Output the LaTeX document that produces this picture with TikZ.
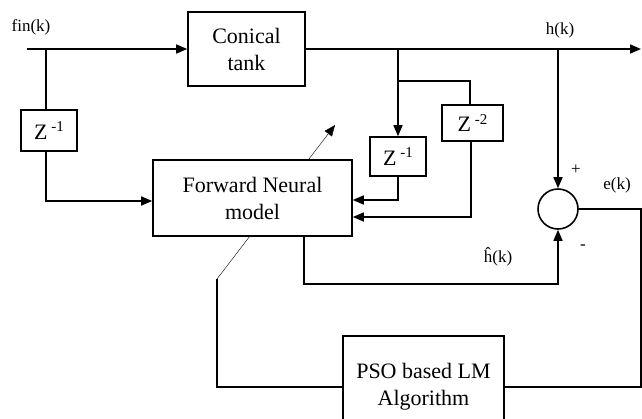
\documentclass[tikz,border=0pt]{standalone}
\usepackage{fontspec}
\setmainfont{Liberation Serif}
\usetikzlibrary{positioning,arrows.meta,backgrounds,calc}

% delay operator z^{-n}
\newcommand{\zdelay}[1]{Z\,\raisebox{0.75ex}{\fontsize{15}{15}\selectfont #1}}

\begin{document}
\begin{tikzpicture}[
  x=1pt, y=-1pt,
  line width=1.6pt,
  font=\fontsize{22}{27}\selectfont,
  block/.style={rectangle, draw, fill=white, align=center, inner sep=0pt},
  delay/.style={rectangle, draw, fill=white, inner sep=0pt,
    font=\fontsize{22}{22}\selectfont},
  sig/.style={font=\fontsize{17}{17}\selectfont, inner sep=0pt},
  arr/.style={-{Triangle[length=11pt,width=9pt]}}
]
\useasboundingbox (0,0) rectangle (642,418);

\node[block, minimum width=117pt, minimum height=74pt] (tank) at (246.5,49) {Conical\\tank};
\node[block, minimum width=199pt, minimum height=76pt] (nn) at (252.5,198) {Forward Neural\\model};
\node[delay, minimum width=56pt, minimum height=41pt] (zfin) at (49,130.5) {\zdelay{-1}};
\node[delay, minimum width=56pt, minimum height=39pt] (zh1) at (398,156.5) {\zdelay{-1}};
\node[delay, minimum width=61pt, minimum height=36pt] (zh2) at (472.5,123) {\zdelay{-2}};
\node[circle, draw, minimum size=40pt, inner sep=0pt] (sum) at (558,209) {};
\node[block, minimum width=161pt, minimum height=102pt] (pso) at (423.5,387) {PSO based LM\\Algorithm};

\coordinate (in) at (27,49);
\coordinate (out) at (641,49);
\coordinate (fk) at (46,49);
\coordinate (fh) at (398,49);
\coordinate (fs) at (558,49);
\coordinate (tap) at (398,81);
\coordinate (ecorner) at (641,209);
\coordinate (wa) at (217,279);
\coordinate (wb) at (335,125);

% main path through the tank
\draw[arr] (in) -- (tank);
\draw[arr] (tank) -- (out);

% delayed inputs to the network
\draw (fk) -- (zfin.north -| fk);
\draw[arr] (zfin.south -| fk) |- ($(nn.west)+(0,3)$);
\draw[arr] (fh) -- (zh1);
\draw (tap) -| ($(zh2.north)+(-2.5,0)$);
\draw[arr] (zh1.south) |- ($(nn.east)+(0,2)$);
\draw[arr] ($(zh2.south)+(-1.5,0)$) |- ($(nn.east)+(0,19)$);

% error
\draw[arr] (fs) -- (sum.north);
\draw[arr] ($(nn.south)+(51.5,0)$) -- ++(0,47) -| (sum.south);
\draw (sum) -- (ecorner) |- (pso);

% weight update
\draw (pso) -| (wa);
\begin{scope}[on background layer]
  \draw[arr] (wa) -- (wb);
\end{scope}

\node[sig] (fin) at (31,27) {fin(k)};
\node[sig] (hk) at (560,30) {h(k)};
\node[sig] (ek) at (617,185) {e(k)};
\node[sig] (hhat) at (498,257) {\^{h}(k)};
\node[sig] (plus) at (576,170) {+};
\node[sig] (minus) at (583,247) {-};
\end{tikzpicture}
\end{document}
